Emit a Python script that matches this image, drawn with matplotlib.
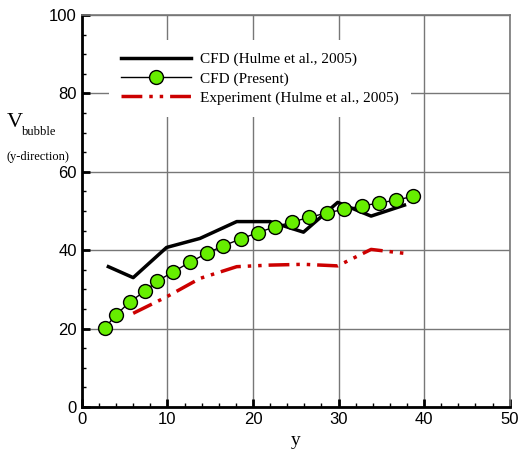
import numpy as np
import matplotlib
matplotlib.use("Agg")
import matplotlib.pyplot as plt
from matplotlib.ticker import MultipleLocator

# CFD (Hulme et al., 2005)
hulme_x = [3.1, 6.0, 9.9, 13.8, 18.1, 22.0, 25.9, 29.9, 33.8, 37.7]
hulme_y = [35.8, 33.0, 40.7, 43.0, 47.3, 47.3, 44.6, 52.2, 48.7, 51.5]

# CFD (Present)
present_x = [2.7, 4.0, 5.6, 7.4, 8.8, 10.7, 12.6, 14.6, 16.5, 18.6,
             20.6, 22.6, 24.6, 26.6, 28.6, 30.6, 32.7, 34.7, 36.7, 38.7]
present_y = [20.2, 23.5, 26.8, 29.6, 32.1, 34.5, 36.9, 39.2, 41.1, 42.9,
             44.5, 46.0, 47.2, 48.4, 49.5, 50.4, 51.3, 52.0, 52.8, 53.7]

# Experiment (Hulme et al., 2005)
exp_x = [6.0, 9.9, 13.8, 18.1, 22.0, 25.9, 29.9, 33.8, 37.7]
exp_y = [23.9, 28.1, 32.8, 35.8, 36.2, 36.4, 36.0, 40.2, 39.2]

serif = "Liberation Serif"
sans = "Liberation Sans"

fig = plt.figure(figsize=(5.18, 4.54), dpi=100)
ax = fig.add_axes([0.158, 0.1035, 0.826, 0.8635])

ax.plot(hulme_x, hulme_y, color="black", lw=2.5, label="CFD (Hulme et al., 2005)", zorder=3)
ax.plot(present_x, present_y, color="black", lw=1.0, marker="o", markersize=10,
        markerfacecolor="#66ee00", markeredgecolor="black", markeredgewidth=1.0,
        label="CFD (Present)", zorder=4)
ax.plot(exp_x, exp_y, color="#cc0000", lw=2.5, dashes=[6, 2, 1, 2, 1, 2],
        label="Experiment (Hulme et al., 2005)", zorder=3)

ax.set_xlim(0, 50)
ax.set_ylim(0, 100)
ax.xaxis.set_major_locator(MultipleLocator(10))
ax.xaxis.set_minor_locator(MultipleLocator(2))
ax.yaxis.set_major_locator(MultipleLocator(20))
ax.yaxis.set_minor_locator(MultipleLocator(5))
ax.tick_params(which="both", direction="in", top=False, right=False)
ax.tick_params(which="major", length=6, width=2)
ax.tick_params(which="minor", length=3, width=1)
for lab in ax.get_xticklabels() + ax.get_yticklabels():
    lab.set_fontfamily(sans)
    lab.set_fontsize(12)

ax.grid(True, which="major", color="#777777", lw=1.0, zorder=0)
ax.set_axisbelow(True)
for side in ["left", "bottom"]:
    ax.spines[side].set_linewidth(2)
    ax.spines[side].set_color("black")
for side in ["top", "right"]:
    ax.spines[side].set_linewidth(1.2)
    ax.spines[side].set_color("#777777")

ax.set_xlabel("y", fontfamily=serif, fontsize=14, labelpad=4)

fig.text(0.013, 0.71, "V", fontfamily=serif, fontsize=16, ha="left", va="bottom")
fig.text(0.043, 0.695, "bubble", fontfamily=serif, fontsize=9, ha="left", va="bottom")
fig.text(0.012, 0.654, "(y-direction)", fontfamily=serif, fontsize=9, ha="left", va="center")

leg = ax.legend(loc="upper left", bbox_to_anchor=(0.045, 0.955), frameon=True,
                prop={"family": serif, "size": 11}, handlelength=4.6,
                labelspacing=0.35, borderpad=0.8, handletextpad=0.6)
leg.get_frame().set_edgecolor("none")
leg.get_frame().set_facecolor("white")
leg.get_frame().set_alpha(1.0)

fig.savefig("out.png", dpi=100)
